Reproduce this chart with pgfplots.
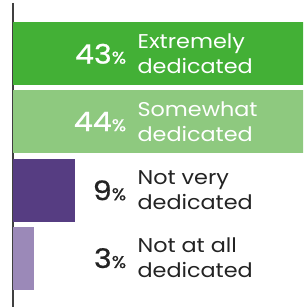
\documentclass[border=0pt]{standalone}
\usepackage{pgfplots}
\pgfplotsset{compat=1.18}
\usepackage{fontspec}
\setmainfont{Poppins}[FakeStretch=1.12]
\newfontfamily\numfont{Poppins}[FakeBold=0.8, FakeStretch=1.12]
\definecolor{g1}{RGB}{67,176,54}
\definecolor{g2}{RGB}{142,201,127}
\definecolor{p1}{RGB}{86,61,130}
\definecolor{p2}{RGB}{155,137,184}
\definecolor{axc}{RGB}{64,64,64}
\definecolor{txt}{RGB}{35,35,35}
\begin{document}
\begin{tikzpicture}
\begin{axis}[
  scale only axis,
  width=291pt, height=305pt,
  xmin=0, xmax=42.2,
  ymin=0, ymax=305,
  y dir=reverse,
  axis x line=none,
  axis y line=left,
  y axis line style={-, draw=axc, line width=2pt},
  ytick=\empty, xtick=\empty,
  xbar, bar width=63, bar shift=0pt,
  clip=true,
]
\addplot[fill=g1, draw=none] coordinates {(43,51)};
\addplot[fill=g2, draw=none] coordinates {(44,119)};
\addplot[fill=p1, draw=none] coordinates {(9,188)};
\addplot[fill=p2, draw=none] coordinates {(3,256)};
\foreach \yy/\num/\la/\lb/\col in {51/43/Extremely/dedicated/white, 119/44/Somewhat/dedicated/white, 188/9/Not very/dedicated/txt, 256/3/Not at all/dedicated/txt}{
  \edef\tmp{\noexpand\node[anchor=east, text=\col, inner sep=0pt] at (axis cs:16.5,\yy) {\noexpand\numfont\noexpand\fontsize{27}{27}\noexpand\selectfont \num\noexpand\fontsize{17}{17}\noexpand\selectfont\%};
  \noexpand\node[anchor=west, text=\col, inner sep=0pt, align=left, font=\noexpand\fontsize{20}{25}\noexpand\selectfont] at (axis cs:18.1,\yy) {\la\\\lb};}
  \tmp
}
\end{axis}
\path (current axis.south west) ++(-13pt,0pt) (current axis.north west) ++(0pt,3pt);
\end{tikzpicture}
\end{document}
